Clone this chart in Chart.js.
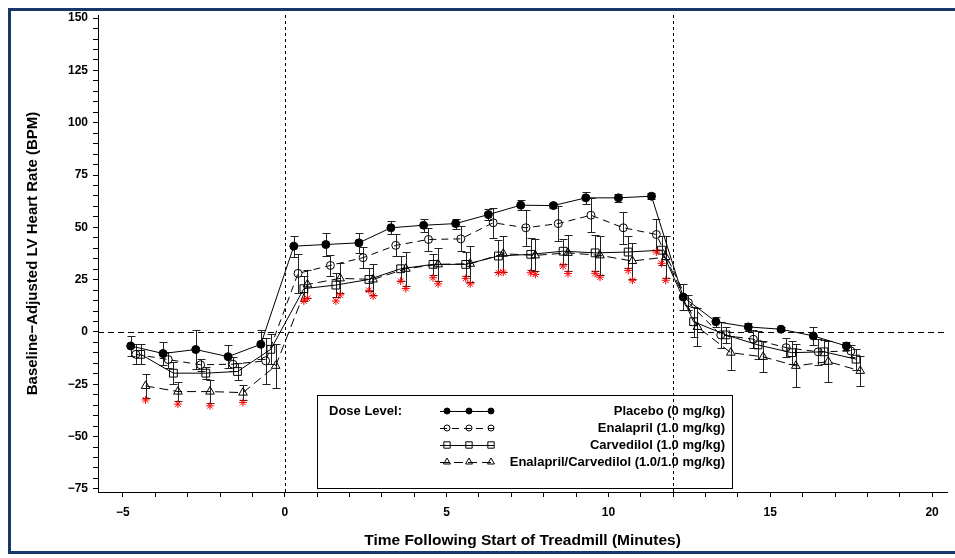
<!DOCTYPE html>
<html>
<head>
<meta charset="utf-8">
<script src="https://cdn.jsdelivr.net/npm/chart.js@4.4.1/dist/chart.umd.min.js"></script>
<style>
    html, body { margin: 0; padding: 0; background: #fff; }
    #wrap { position: relative; width: 955px; height: 558px; overflow: hidden; background: #fff; }
    #frame { position: absolute; left: 8px; top: 8px; width: 1000px; height: 540px;
             border-left: 3px solid #16386b; border-top: 3px solid #16386b; border-bottom: 3px solid #16386b;
             pointer-events: none; }
    canvas { position: absolute; left: 0; top: 0; }
</style>
</head>
<body>
<div id="wrap">
    <canvas id="graficoFC" width="955" height="558"></canvas>
    <div id="frame"></div>
</div>
<script>
// === DADOS ===
const nomesSeries = ["Placebo (0 mg/kg)", "Enalapril (1.0 mg/kg)", "Carvedilol (1.0 mg/kg)", "Enalapril/Carvedilol (1.0/1.0 mg/kg)"];

const xPlacebo = [-4.76, -3.76, -2.75, -1.75, -0.74, 0.28, 1.27, 2.29, 3.28, 4.29, 5.28, 6.29, 7.29, 8.3, 9.3, 10.31, 11.33, 12.31, 13.32, 14.32, 15.33, 16.33, 17.35];
const yPlacebo = [-6.7, -10.3, -8.4, -11.8, -5.9, 41.0, 41.8, 42.6, 49.8, 51.0, 51.8, 56.1, 60.6, 60.4, 64.1, 64.1, 64.9, 16.7, 4.9, 2.4, 1.3, -1.9, -6.7];
const errPlacebo = [4.9, 5.4, 9.3, 5.4, 6.9, 5.0, 5.3, 4.8, 3.0, 3.2, 2.4, 2.8, 2.4, 1.2, 2.8, 2.0, 1.5, 6.0, 2.4, 1.8, 1.0, 4.1, 2.0];

const xEnalapril = [-4.6, -3.6, -2.6, -1.6, -0.59, 0.41, 1.41, 2.42, 3.43, 4.44, 5.44, 6.44, 7.45, 8.45, 9.46, 10.46, 11.48, 12.47, 13.47, 14.48, 15.49, 16.48, 17.49];
const yEnalapril = [-10.7, -13.2, -15.7, -15.4, -13.8, 28.0, 31.8, 35.5, 41.4, 44.2, 44.5, 52.2, 49.8, 51.8, 55.8, 49.8, 46.6, 14.0, -1.4, -3.5, -7.5, -9.5, -9.1];
const errEnalapril = [4.8, 3.8, 2.8, 3.3, 11.0, 9.5, 5.2, 5.0, 5.3, 5.6, 6.0, 7.2, 8.7, 8.2, 8.0, 7.6, 7.6, 3.5, 6.1, 4.2, 4.4, 6.1, 3.0];

const xCarvedilol = [-4.45, -3.44, -2.44, -1.46, -0.43, 0.59, 1.58, 2.6, 3.58, 4.58, 5.59, 6.6, 7.6, 8.6, 9.59, 10.61, 11.64, 12.63, 13.63, 14.62, 15.66, 16.66, 17.65];
const yCarvedilol = [-10.7, -19.7, -19.7, -18.9, -8.3, 20.7, 22.4, 25.1, 30.2, 32.3, 32.3, 36.3, 37.1, 38.6, 37.8, 38.2, 39.1, 4.9, -1.4, -6.2, -9.9, -9.5, -13.0];
const errCarvedilol = [4.8, 5.2, 3.0, 4.2, 7.2, 6.0, 5.7, 5.6, 6.0, 5.2, 5.7, 7.8, 7.6, 6.0, 8.7, 7.6, 7.0, 7.2, 4.0, 6.6, 5.6, 5.7, 5.0];

const xCombo = [-4.3, -3.3, -2.31, -1.29, -0.28, 0.7, 1.71, 2.73, 3.74, 4.74, 5.73, 6.75, 7.74, 8.75, 9.74, 10.74, 11.77, 12.75, 13.78, 14.78, 15.79, 16.79, 17.78];
const yCombo = [-25.8, -28.5, -28.5, -29.0, -16.2, 22.7, 25.6, 25.1, 30.2, 32.3, 32.6, 37.4, 36.6, 37.8, 36.6, 33.9, 35.8, 2.4, -9.9, -11.9, -16.2, -14.2, -18.6];
const errCombo = [5.6, 4.5, 5.6, 3.7, 10.5, 6.7, 7.2, 7.2, 8.0, 7.8, 8.6, 8.7, 7.6, 8.6, 9.3, 8.7, 10.0, 9.0, 8.2, 7.4, 10.3, 9.7, 7.0];

// asteriscos vermelhos (diferença significativa)
const xSigEnalapril = [11.48];
const ySigEnalapril = [38.2];
const xSigCarvedilol = [0.59, 1.58, 2.6, 3.58, 4.58, 5.59, 6.6, 7.6, 8.6, 9.59, 10.61, 11.64];
const ySigCarvedilol = [14.8, 14.8, 19.9, 24.3, 25.9, 25.6, 28.3, 28.3, 31.5, 28.0, 29.4, 32.8];
const xSigCombo = [-4.3, -3.3, -2.31, -1.29, 0.7, 1.71, 2.73, 3.74, 4.74, 5.73, 6.75, 7.74, 8.75, 9.74, 10.74, 11.77];
const ySigCombo = [-32.5, -34.5, -35.3, -33.7, 16.1, 17.7, 17.2, 20.8, 23.0, 23.0, 28.6, 27.5, 27.9, 26.2, 24.7, 24.7];

// eixos
const xTicks = [-5, -4, -3, -2, -1, 0, 1, 2, 3, 4, 5, 6, 7, 8, 9, 10, 11, 12, 13, 14, 15, 16, 17, 18, 19, 20];
const xTickLabels = [-5, 0, 5, 10, 15, 20];
const yTicks = [];
for (let v = -75; v <= 150; v += 5) yTicks.push(v);
const yTickLabels = [-75, -50, -25, 0, 25, 50, 75, 100, 125, 150];
const refX = [0, 12];
const refY = [0];

const FONTE = "'Liberation Sans', Arial, Helvetica, sans-serif";

function pontos(xs, ys) {
    return xs.map((x, i) => ({ x: x, y: ys[i] }));
}

function rotulo(v) {
    return v < 0 ? "\u2212" + Math.abs(v) : String(v);
}

// === PLUGINS ===
const linhasReferencia = {
    id: "linhasReferencia",
    beforeDatasetsDraw(chart) {
        const { ctx, chartArea, scales } = chart;
        ctx.save();
        ctx.strokeStyle = "#000";
        ctx.lineWidth = 1;
        ctx.setLineDash([3, 3]);
        refX.forEach(v => {
            const px = Math.round(scales.x.getPixelForValue(v)) + 0.5;
            ctx.beginPath();
            ctx.moveTo(px, chartArea.top);
            ctx.lineTo(px, chartArea.bottom);
            ctx.stroke();
        });
        ctx.setLineDash([6, 4]);
        refY.forEach(v => {
            const py = Math.round(scales.y.getPixelForValue(v)) + 0.5;
            ctx.beginPath();
            ctx.moveTo(chartArea.left, py);
            ctx.lineTo(chartArea.right, py);
            ctx.stroke();
        });
        ctx.restore();
    }
};

const barrasErro = {
    id: "barrasErro",
    beforeDatasetsDraw(chart) {
        const { ctx, scales } = chart;
        ctx.save();
        ctx.strokeStyle = "#222";
        ctx.lineWidth = 1;
        chart.data.datasets.forEach((ds, i) => {
            if (!ds.erros) return;
            ds.data.forEach((p, j) => {
                const px = Math.round(scales.x.getPixelForValue(p.x)) + 0.5;
                const yt = Math.round(scales.y.getPixelForValue(p.y + ds.erros[j])) + 0.5;
                const yb = Math.round(scales.y.getPixelForValue(p.y - ds.erros[j])) + 0.5;
                ctx.beginPath();
                ctx.moveTo(px, yt); ctx.lineTo(px, yb);
                ctx.moveTo(px - 4, yt); ctx.lineTo(px + 4, yt);
                ctx.moveTo(px - 4, yb); ctx.lineTo(px + 4, yb);
                ctx.stroke();
            });
        });
        ctx.restore();
    }
};

const legendaDose = {
    id: "legendaDose",
    afterDraw(chart) {
        const ctx = chart.ctx;
        ctx.save();
        ctx.strokeStyle = "#000";
        ctx.lineWidth = 1;
        ctx.setLineDash([]);
        ctx.strokeRect(317.5, 395.5, 415, 93);

        ctx.fillStyle = "#000";
        ctx.font = "bold 13px " + FONTE;
        ctx.textBaseline = "middle";
        ctx.textAlign = "left";
        ctx.fillText("Dose Level:", 329, 411);

        const series = chart.data.datasets.filter(d => d.erros);
        series.forEach((ds, i) => {
            const y = 411 + i * 17;
            ctx.strokeStyle = "#000";
            ctx.setLineDash(ds.borderDash || []);
            ctx.beginPath();
            ctx.moveTo(440, y + 0.5);
            ctx.lineTo(494, y + 0.5);
            ctx.stroke();
            ctx.setLineDash([]);
            [447, 469, 491].forEach(mx => {
                ctx.fillStyle = ds.pointBackgroundColor;
                ctx.strokeStyle = "#000";
                Chart.helpers.drawPoint(ctx, {
                    pointStyle: ds.pointStyle,
                    radius: ds.pointRadius - 1,
                    rotation: 0,
                    borderWidth: 1
                }, mx, y);
            });
            ctx.fillStyle = "#000";
            ctx.textAlign = "right";
            ctx.fillText(ds.label, 725, y);
        });
        ctx.restore();
    }
};

// === GRÁFICO ===
function serie(label, xs, ys, erros, estilo, fundo, raio, traco) {
    return {
        label: label,
        data: pontos(xs, ys),
        erros: erros,
        showLine: true,
        borderColor: "#000",
        borderWidth: 1,
        borderDash: traco,
        pointStyle: estilo,
        pointRadius: raio,
        pointHoverRadius: raio,
        pointBackgroundColor: fundo,
        pointBorderColor: "#000",
        pointBorderWidth: 1,
        order: 2
    };
}

function asteriscos(xs, ys) {
    return {
        label: "sig",
        data: pontos(xs, ys),
        showLine: false,
        pointStyle: "star",
        pointRadius: 4,
        pointBorderColor: "#ff0000",
        pointBackgroundColor: "#ff0000",
        pointBorderWidth: 1,
        order: 1
    };
}

const ctx = document.getElementById("graficoFC");

new Chart(ctx, {
    type: "scatter",
    data: {
        datasets: [
            serie(nomesSeries[0], xPlacebo, yPlacebo, errPlacebo, "circle", "#000", 4, []),
            serie(nomesSeries[1], xEnalapril, yEnalapril, errEnalapril, "circle", "rgba(0,0,0,0)", 4, [7, 5]),
            serie(nomesSeries[2], xCarvedilol, yCarvedilol, errCarvedilol, "rect", "rgba(0,0,0,0)", 5.5, []),
            serie(nomesSeries[3], xCombo, yCombo, errCombo, "triangle", "rgba(0,0,0,0)", 5, [9, 5]),
            asteriscos(xSigEnalapril, ySigEnalapril),
            asteriscos(xSigCarvedilol, ySigCarvedilol),
            asteriscos(xSigCombo, ySigCombo)
        ]
    },
    options: {
        responsive: false,
        devicePixelRatio: 1,
        animation: false,
        layout: { padding: { left: 0, top: 15, right: 8, bottom: 0 } },
        plugins: {
            legend: { display: false },
            tooltip: { enabled: false }
        },
        scales: {
            x: {
                type: "linear",
                min: -5.77,
                max: 20.46,
                afterBuildTicks: s => { s.ticks = xTicks.map(v => ({ value: v })); },
                afterFit: s => { s.height = 66; },
                grid: { drawOnChartArea: false, drawTicks: true, tickLength: 5, color: "#000" },
                border: { display: true, color: "#000" },
                ticks: {
                    autoSkip: false,
                    maxRotation: 0,
                    padding: 8,
                    color: "#000",
                    font: { family: FONTE, size: 12, weight: "bold" },
                    callback: v => xTickLabels.includes(v) ? rotulo(v) : ""
                },
                title: {
                    display: true,
                    text: "Time Following Start of Treadmill (Minutes)",
                    color: "#000",
                    font: { family: FONTE, size: 15.5, weight: "bold" },
                    padding: { top: 0, bottom: 8 }
                }
            },
            y: {
                type: "linear",
                min: -76.5,
                max: 151.5,
                afterBuildTicks: s => { s.ticks = yTicks.map(v => ({ value: v })); },
                afterFit: s => { s.width = 98; },
                grid: { drawOnChartArea: false, drawTicks: true, tickLength: 5, color: "#000" },
                border: { display: true, color: "#000" },
                ticks: {
                    autoSkip: false,
                    padding: 5,
                    color: "#000",
                    font: { family: FONTE, size: 12, weight: "bold" },
                    callback: v => yTickLabels.includes(v) ? rotulo(v) : ""
                },
                title: {
                    display: true,
                    text: "Baseline\u2212Adjusted LV Heart Rate (BPM)",
                    color: "#000",
                    font: { family: FONTE, size: 15, weight: "bold" },
                    padding: { top: 24, bottom: 0 }
                }
            }
        }
    },
    plugins: [linhasReferencia, barrasErro, legendaDose]
});
</script>
</body>
</html>
